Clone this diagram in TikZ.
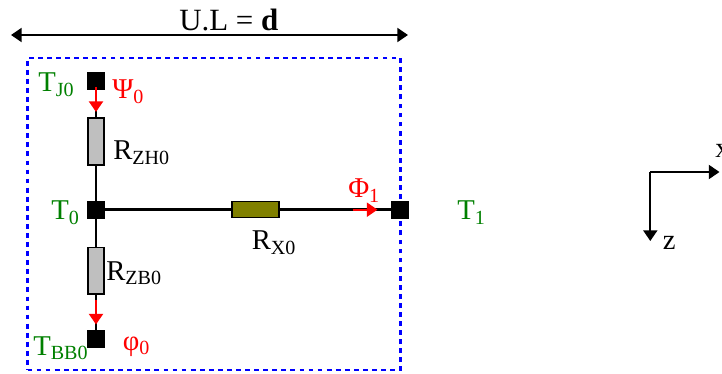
\documentclass[tikz,border=0pt]{standalone}
\usepackage{fontspec}
\setmainfont{Liberation Serif}
\usetikzlibrary{arrows.meta, positioning, calc}
\definecolor{cTEMP}{HTML}{008000}
\definecolor{cFLUX}{HTML}{FF0000}
\definecolor{cCELL}{HTML}{0000FF}
\definecolor{cRZ}{HTML}{BFBFBF}
\definecolor{cRX}{HTML}{808000}
\tikzset{
  lbl/.style={inner sep=0pt, anchor=base west, font=\fontsize{21.5}{24}\selectfont},
  templbl/.style={lbl, text=cTEMP},
  fluxlbl/.style={lbl, text=cFLUX},
  junction/.style={draw=black, fill=black, minimum size=13pt, inner sep=0pt},
  resZ/.style={draw=black, line width=1.4pt, fill=cRZ, minimum width=12pt, minimum height=35pt, inner sep=0pt},
  resX/.style={draw=black, line width=1.4pt, fill=cRX, minimum width=35pt, minimum height=12pt, inner sep=0pt},
  wire/.style={draw=black, line width=1.6pt},
  fluxarrow/.style={draw=cFLUX, line width=1.7pt, -{Triangle[length=8pt, width=10.5pt]}},
  axisarrow/.style={draw=black, line width=1.5pt, -{Triangle[length=8pt, width=10.5pt]}},
}
\begin{document}
\begin{tikzpicture}[x=0.75pt, y=-0.75pt]
  \useasboundingbox (0,0) rectangle (722,374);

  % Unit length arrow
  \coordinate (ulL) at (11,35);
  \coordinate (ulR) at (408,35);
  \draw[line width=1.5pt, {Triangle[length=8pt, width=10.5pt]}-{Triangle[length=8pt, width=10.5pt]}] (ulL) -- (ulR);
  \node[lbl, font=\fontsize{23.2}{26}\selectfont] (ulText) at (179,31) {U.L = \textbf{d}};

  % Cell boundary
  \node[draw=cCELL, line width=2pt, dash pattern=on 3.6pt off 3.2pt, minimum width=279.75pt, minimum height=234pt, inner sep=0pt] (cell) at (214,214) {};

  % Junctions
  \node[junction] (TJ) at (96,80.5) {};
  \node[junction] (T0) at (96,209.5) {};
  \node[junction] (TBB) at (96,339) {};
  \node[junction] (T1) at (400,209.5) {};

  % Resistors
  \node[resZ] (RZH) at (96,141.7) {};
  \node[resZ] (RZB) at (96,270.8) {};
  \node[resX] (RX) at (255.4,209.5) {};

  % Wires
  \draw[wire] (TJ) -- (RZH);
  \draw[wire] (RZH) -- (T0);
  \draw[wire] (T0) -- (RZB);
  \draw[wire] (RZB) -- (TBB);
  \draw[wire] (T0) -- (RX);
  \draw[wire] (RX) -- (T1);

  % Heat flux arrows
  \coordinate (psiA) at (96,87);
  \coordinate (psiB) at (96,112);
  \draw[fluxarrow] (psiA) -- (psiB);
  \coordinate (phiA) at (96,300);
  \coordinate (phiB) at (96,324.5);
  \draw[fluxarrow] (phiA) -- (phiB);
  \coordinate (fluxA) at (353,209.7);
  \coordinate (fluxB) at (377.5,209.7);
  \draw[fluxarrow] (fluxA) -- (fluxB);

  % Temperatures
  \node[templbl] (tjLbl) at (38,92) {T\textsubscript{J0}};
  \node[templbl] (t0Lbl) at (51,220) {T\textsubscript{0}};
  \node[templbl] (tbbLbl) at (33,355.5) {T\textsubscript{BB0}};
  \node[templbl] (t1Lbl) at (457,220) {T\textsubscript{1}};

  % Resistances
  \node[lbl] (rzhLbl) at (113,160) {R\textsubscript{ZH0}};
  \node[lbl] (rzbLbl) at (106,280.5) {R\textsubscript{ZB0}};
  \node[lbl] (rxLbl) at (251.5,250) {R\textsubscript{X0}};

  % Fluxes
  \node[fluxlbl] (psiLbl) at (112,99) {Ψ\textsubscript{0}};
  \node[fluxlbl] (phiLbl) at (122.5,350.5) {φ\textsubscript{0}};
  \node[fluxlbl] (fluxLbl) at (348,198) {Φ\textsubscript{1}};

  % Axes
  \coordinate (axO) at (650.3,172);
  \coordinate (axX) at (719.5,172);
  \coordinate (axZ) at (650.3,241);
  \draw[axisarrow] (axO) -- (axX);
  \draw[axisarrow] (axO) -- (axZ);
  \node[lbl] (xLbl) at (715,158) {x};
  \node[lbl] (zLbl) at (662.5,250) {z};
\end{tikzpicture}
\end{document}
